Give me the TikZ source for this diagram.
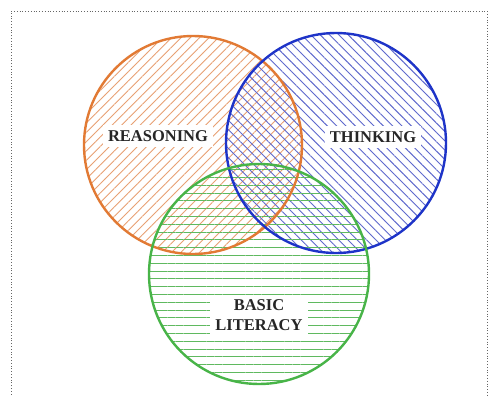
\documentclass[tikz,border=0pt]{standalone}
\usepackage{fontspec}
\setmainfont{Liberation Serif}
\usetikzlibrary{patterns.meta}
\definecolor{orng}{RGB}{226,122,52}
\definecolor{blu}{RGB}{30,52,200}
\definecolor{grn}{RGB}{72,180,72}
\definecolor{orngh}{RGB}{232,160,115}
\definecolor{bluh}{RGB}{95,105,205}
\definecolor{grnh}{RGB}{95,185,95}
\tikzset{
  ring/.style={line width=2.4pt},
  lbl/.style={fill=white, inner sep=5pt, font=\bfseries\fontsize{16.5}{19.5}\selectfont, align=center, text=black!85},
  frame/.style={draw=black!60, dotted, line width=0.8pt}
}
\begin{document}
\begin{tikzpicture}[x=1pt,y=-1pt]
\useasboundingbox (0,0) rectangle (490,396);
\fill[white] (0,0) rectangle (490,396);
\coordinate (fl) at (11,400);
\coordinate (ftl) at (11,11);
\coordinate (ftr) at (487,11);
\coordinate (fr) at (487,400);
\draw[frame] (fl) -- (ftl) -- (ftr) -- (fr);
% hatching
\fill[pattern={Lines[angle=45,distance=6.6pt,line width=0.9pt]}, pattern color=orngh] (193,145) circle (109);
\fill[pattern={Lines[angle=-45,distance=6.6pt,line width=0.9pt]}, pattern color=bluh] (336,143) circle (110);
\fill[pattern={Lines[angle=0,distance=7.8pt,line width=1pt]}, pattern color=grnh] (259,274) circle (110);
% labels
\node[lbl] (r) at (158,136) {REASONING};
\node[lbl] (t) at (373,137) {THINKING};
\node[lbl] (b) at (259,315) {BASIC\\LITERACY};
% outlines
\node[ring, draw=orng, circle, minimum size=218pt, inner sep=0pt] (cr) at (193,145) {};
\node[ring, draw=blu, circle, minimum size=220pt, inner sep=0pt] (ct) at (336,143) {};
\node[ring, draw=grn, circle, minimum size=220pt, inner sep=0pt] (cb) at (259,274) {};
\end{tikzpicture}
\end{document}
